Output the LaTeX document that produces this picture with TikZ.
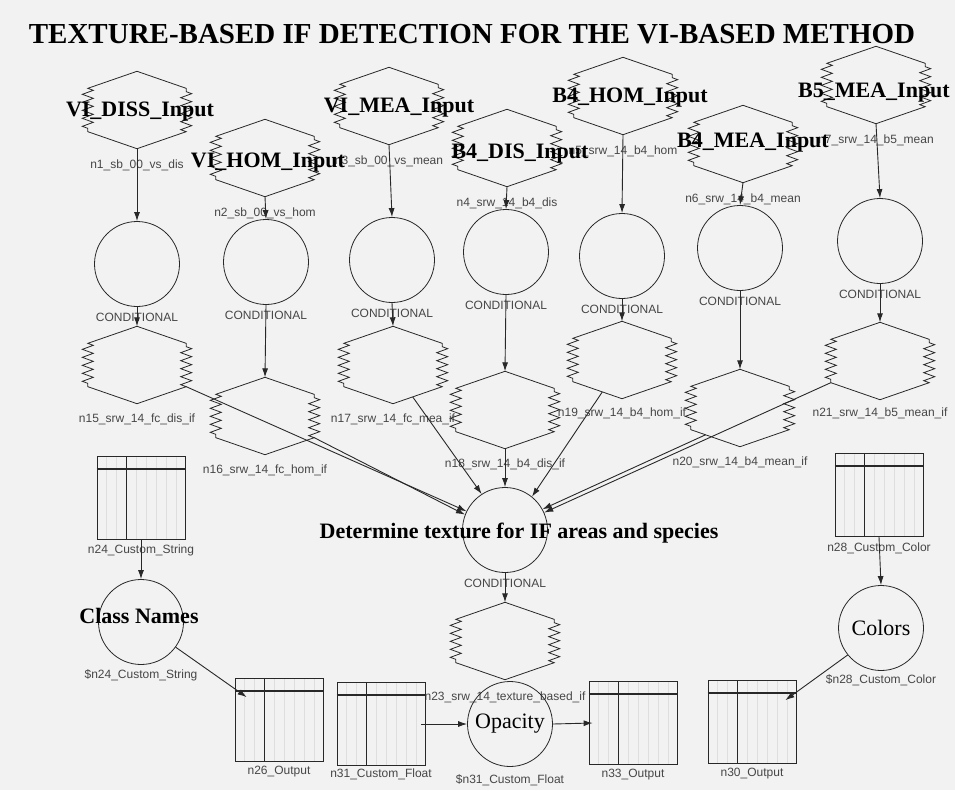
\documentclass[tikz,border=0pt]{standalone}
\usepackage{fontspec}
\setmainfont{Liberation Serif}
\setsansfont{Liberation Sans}
\usepackage{tikz}
\usetikzlibrary{arrows.meta,shapes,positioning,calc,decorations.pathmorphing}
\definecolor{bggray}{RGB}{242,242,242}
\definecolor{linegray}{RGB}{40,40,40}
\definecolor{labelgray}{RGB}{70,70,70}
\definecolor{gridgray}{RGB}{222,222,222}
\tikzstyle{arrow} = [line width=0.9pt,-{Latex[length=9pt,width=6pt]},color=linegray]
\tikzstyle{hexnode} = [rectangle, minimum width=98pt, minimum height=77pt, inner sep=0]
\tikzstyle{condnode} = [circle, draw=linegray, line width=0.8pt, minimum size=85pt, inner sep=0]
\tikzstyle{tabnode} = [rectangle, draw=linegray, line width=0.8pt, minimum width=88pt, minimum height=83pt, inner sep=0]
\tikzstyle{boldlabel} = [font=\fontsize{22}{24}\selectfont\bfseries, inner sep=0]
\tikzstyle{plainlabel} = [font=\fontsize{22}{24}\selectfont]
\tikzstyle{smalllabel} = [font=\sffamily\fontsize{12}{14}\selectfont, text=labelgray, inner sep=0]
\tikzstyle{zig} = [decoration={zigzag, segment length=8pt, amplitude=5.5pt}]

% hexagon with zigzag sides
\newcommand{\zighex}[3]{%
  \node[hexnode] (#1) at (#2,#3) {};
  \coordinate (#1-nw) at ($(#1.north west)!0.22!(#1.south west)$);
  \coordinate (#1-sw) at ($(#1.north west)!0.78!(#1.south west)$);
  \coordinate (#1-ne) at ($(#1.north east)!0.22!(#1.south east)$);
  \coordinate (#1-se) at ($(#1.north east)!0.78!(#1.south east)$);
  \draw[linegray, line width=0.8pt] (#1.north) -- (#1-nw) decorate[zig] {-- (#1-sw)} -- (#1.south)
    -- (#1-se) decorate[zig] {-- (#1-ne)} -- cycle;
}

% table icon
\newcommand{\gridbox}[3]{%
  \node[tabnode] (#1) at (#2,#3) {};
  \foreach \k in {10,20,...,80}
    \draw[gridgray, line width=0.4pt] ($(#1.north west)+(\k,1)$) -- ($(#1.south west)+(\k,-1)$);
  \draw[linegray, line width=1.4pt] ($(#1.north west)+(30,0)$) -- ($(#1.south west)+(30,0)$);
  \draw[linegray, line width=1.4pt] ($(#1.north west)+(0,13)$) -- ($(#1.north east)+(0,13)$);
}

\begin{document}
\begin{tikzpicture}[x=1pt,y=-1pt]
% Background
\fill[bggray] (0,0) rectangle (955,790);
\useasboundingbox (0,0) rectangle (955,790);

% Title
\node[font=\fontsize{29}{32}\selectfont\bfseries, inner sep=0] (title) at (472,34) {TEXTURE-BASED IF DETECTION FOR THE VI-BASED METHOD};

% Inputs
\zighex{in1}{137}{110}
\zighex{in2}{265}{158}
\zighex{in3}{389}{106}
\zighex{in4}{507}{148}
\zighex{in5}{623}{96}
\zighex{in6}{743}{144}
\zighex{in7}{876}{85}

\node[smalllabel, below=11pt of in1.south] (s1) {n1\_sb\_00\_vs\_dis};
\node[smalllabel, below=11pt of in2.south] (s2) {n2\_sb\_00\_vs\_hom};
\node[smalllabel, below=11pt of in3.south] (s3) {n3\_sb\_00\_vs\_mean};
\node[smalllabel, below=11pt of in4.south] (s4) {n4\_srw\_14\_b4\_dis};
\node[smalllabel, below=11pt of in5.south] (s5) {n5\_srw\_14\_b4\_hom};
\node[smalllabel, below=11pt of in6.south] (s6) {n6\_srw\_14\_b4\_mean};
\node[smalllabel, below=11pt of in7.south] (s7) {n7\_srw\_14\_b5\_mean};

\node[boldlabel] (l1) at (140,112) {VI\_DISS\_Input};
\node[boldlabel] (l2) at (268,163) {VI\_HOM\_Input};
\node[boldlabel] (l3) at (399,108) {VI\_MEA\_Input};
\node[boldlabel] (l4) at (520,154) {B4\_DIS\_Input};
\node[boldlabel] (l5) at (630,98) {B4\_HOM\_Input};
\node[boldlabel] (l6) at (753,143) {B4\_MEA\_Input};
\node[boldlabel] (l7) at (874,93) {B5\_MEA\_Input};

% Conditionals
\node[condnode] (c1) at (137,264) {};
\node[condnode] (c2) at (266,262) {};
\node[condnode] (c3) at (392,260) {};
\node[condnode] (c4) at (506,252) {};
\node[condnode] (c5) at (622,256) {};
\node[condnode] (c6) at (740,248) {};
\node[condnode] (c7) at (880,241) {};
\foreach \i in {1,...,7}
  \node[smalllabel, below=6pt of c\i.south] (k\i) {CONDITIONAL};

% Filters
\zighex{h15}{137}{365}
\zighex{h16}{265}{416}
\zighex{h17}{393}{365}
\zighex{h18}{505}{410}
\zighex{h19}{622}{360}
\zighex{h20}{740}{408}
\zighex{h21}{880}{361}

\node[smalllabel, below=10pt of h15.south] (t15) {n15\_srw\_14\_fc\_dis\_if};
\node[smalllabel, below=10pt of h16.south] (t16) {n16\_srw\_14\_fc\_hom\_if};
\node[smalllabel, below=10pt of h17.south] (t17) {n17\_srw\_14\_fc\_mea\_if};
\node[smalllabel, below=10pt of h18.south] (t18) {n18\_srw\_14\_b4\_dis\_if};
\node[smalllabel, below=9pt of h19.south] (t19) {n19\_srw\_14\_b4\_hom\_if};
\node[smalllabel, below=10pt of h20.south] (t20) {n20\_srw\_14\_b4\_mean\_if};
\node[smalllabel, below=8pt of h21.south] (t21) {n21\_srw\_14\_b5\_mean\_if};

\foreach \i in {1,...,7}
  \draw[arrow] (in\i.south) -- (c\i.north);
\foreach \i/\j in {1/15,2/16,3/17,4/18,5/19,6/20,7/21}
  \draw[arrow] (c\i.south) -- (h\j.north);

% Texture decision
\node[condnode] (ctr) at (505,530) {};
\node[boldlabel] (lctr) at (519,533) {Determine texture for IF areas and species};
\node[smalllabel, below=6pt of ctr.south] (kctr) {CONDITIONAL};
\zighex{h23}{505}{641}
\node[smalllabel, below=12pt of h23.south] (t23) {n23\_srw\_14\_texture\_based\_if};

\draw[arrow] (h15-se) -- (ctr.154);
\draw[arrow] (h16-se) -- (ctr.159);
\draw[arrow] ($(h17.south)!0.4!(h17-se)$) -- (ctr.123);
\draw[arrow] (h18.south) -- (ctr.north);
\draw[arrow] ($(h19.south)!0.4!(h19-sw)$) -- (ctr.51);
\draw[arrow] ($(h20.south)!0.7!(h20-sw)$) -- (ctr.29);
\draw[arrow] (h21-sw) -- (ctr.24);
\draw[arrow] (ctr.south) -- (h23.north);

% Tables and parameters
\gridbox{b24}{141}{498}
\gridbox{b26}{279}{720}
\gridbox{b31}{381}{724}
\gridbox{b33}{633}{723}
\gridbox{b30}{752}{722}
\gridbox{b28}{879}{495}
\node[smalllabel, below=5pt of b24.south] (tb24) {n24\_Custom\_String};
\node[smalllabel, below=4pt of b26.south] (tb26) {n26\_Output};
\node[smalllabel, below=3pt of b31.south] (tb31) {n31\_Custom\_Float};
\node[smalllabel, below=4pt of b33.south] (tb33) {n33\_Output};
\node[smalllabel, below=4pt of b30.south] (tb30) {n30\_Output};
\node[smalllabel, below=6pt of b28.south] (tb28) {n28\_Custom\_Color};

\node[condnode] (cn) at (141,622) {};
\node[boldlabel] (lcn) at (139,616) {Class Names};
\node[smalllabel, below=5pt of cn.south] (tcn) {\$n24\_Custom\_String};
\node[condnode, plainlabel] (co) at (881,628) {Colors};
\node[smalllabel, below=4pt of co.south] (tco) {\$n28\_Custom\_Color};
\node[condnode, plainlabel] (op) at (510,724) {Opacity};
\node[smalllabel, below=8pt of op.south] (top) {\$n31\_Custom\_Float};

\draw[arrow] (b24.south) -- (cn.north);
\draw[arrow] (cn.-36) -- ($(b26.north west)+(12,19)$);
\draw[arrow] (b28.south) -- (co.north);
\draw[arrow] (co.219) -- ($(b30.north east)+(-11,20)$);
\draw[arrow] ($(b31.east)+(-4,0)$) -- (op.west);
\draw[arrow] (op.east) -- ($(b33.west)+(4,0)$);
\end{tikzpicture}
\end{document}
